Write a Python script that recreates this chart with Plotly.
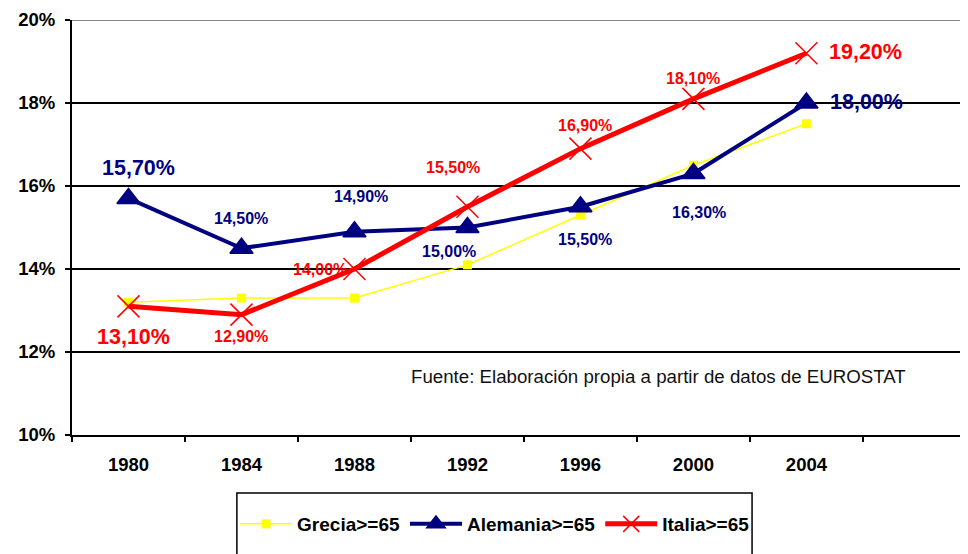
import plotly.graph_objects as go

years = ["1980", "1984", "1988", "1992", "1996", "2000", "2004"]
grecia = [13.2, 13.3, 13.3, 14.1, 15.3, 16.5, 17.5]
alemania = [15.7, 14.5, 14.9, 15.0, 15.5, 16.3, 18.0]
italia = [13.1, 12.9, 14.0, 15.5, 16.9, 18.1, 19.2]

alemania_labels = ["15,70%", "14,50%", "14,90%", "15,00%", "15,50%", "16,30%", "18,00%"]
italia_labels = ["13,10%", "12,90%", "14,00%", "15,50%", "16,90%", "18,10%", "19,20%"]

NAVY = "#000080"
RED = "#ff0000"
YELLOW = "#ffff00"
FONT = "Arial, Liberation Sans, sans-serif"

# label placement (pixel offsets from the marker, font size)
alemania_pos = [(10, -30, 21.5), (0, -30, 16), (7, -35, 16), (-18, 24, 16),
                (5, 33, 16), (6, 39, 16), (60, -1, 21.5)]
italia_pos = [(5, 31, 21.5), (0, 22, 16), (-34, 0, 16), (-14, -39, 16),
              (5, -23, 16), (0, -20, 16), (59, -1, 21.5)]

fig = go.Figure()
fig.add_trace(go.Scatter(
    x=years, y=grecia, name="Grecia>=65", mode="lines+markers",
    line=dict(color=YELLOW, width=1.5),
    marker=dict(symbol="square", size=9, color=YELLOW),
))
fig.add_trace(go.Scatter(
    x=years, y=alemania, name="Alemania>=65", mode="lines+markers",
    line=dict(color=NAVY, width=4),
    marker=dict(symbol="triangle-up", size=20, color=NAVY, line=dict(color=NAVY, width=1.5)),
))
fig.add_trace(go.Scatter(
    x=years, y=italia, name="Italia>=65", mode="lines+markers",
    line=dict(color=RED, width=5),
    marker=dict(symbol="x-thin", size=22, line=dict(color=RED, width=1.5)),
))

annotations = []
for labels, vals, pos, color in [(alemania_labels, alemania, alemania_pos, NAVY),
                                 (italia_labels, italia, italia_pos, RED)]:
    for i, (v, txt, (dx, dy, fs)) in enumerate(zip(vals, labels, pos)):
        annotations.append(dict(
            x=i, y=v, text=txt, showarrow=False, xshift=dx, yshift=-dy,
            font=dict(family=FONT, size=fs, color=color, weight="bold"),
        ))

annotations.append(dict(
    x=0.376, y=0.14, xref="paper", yref="paper", xanchor="left", yanchor="middle",
    text="Fuente: Elaboración propia a partir de datos de EUROSTAT", showarrow=False,
    font=dict(family=FONT, size=18.7, color="#111111"),
))

# the page body adds an 8px margin, so the figure is sized to fit the window
fig.update_layout(
    width=960, height=546,
    plot_bgcolor="white", paper_bgcolor="white",
    margin=dict(l=64, r=0, t=12, b=119, autoexpand=False),
    annotations=annotations,
    legend=dict(
        orientation="h", x=0.182, xanchor="left", y=-0.2145, yanchor="middle",
        font=dict(family=FONT, size=19, color="black", weight="bold"),
        bgcolor="rgba(0,0,0,0)", itemwidth=52, tracegroupgap=0,
    ),
    shapes=[
        dict(type="rect", xref="paper", yref="paper", x0=0.184, x1=0.759,
             y0=-0.1398, y1=-0.35, line=dict(color="black", width=1.5)),
        dict(type="line", xref="paper", yref="y", x0=0, x1=1, y0=20, y1=20,
             line=dict(color="#888888", width=2)),
    ],
)

fig.update_xaxes(
    type="category", range=[-0.5, 7.43], tickson="boundaries", automargin=False,
    ticks="outside", ticklen=5, tickcolor="black", tickwidth=1.5,
    showline=True, linecolor="black", linewidth=2, showgrid=False,
    ticklabelstandoff=12,
    tickfont=dict(family=FONT, size=18.5, color="black", weight="bold"),
)
fig.update_yaxes(
    range=[10, 20], dtick=2, ticksuffix="%", automargin=False,
    ticks="outside", ticklen=5, tickcolor="black", tickwidth=1.5,
    showline=True, linecolor="black", linewidth=2,
    showgrid=True, gridcolor="black", gridwidth=1.5, zeroline=False,
    ticklabelstandoff=6,
    tickfont=dict(family=FONT, size=18.5, color="black", weight="bold"),
)

fig.write_html("out.html")
